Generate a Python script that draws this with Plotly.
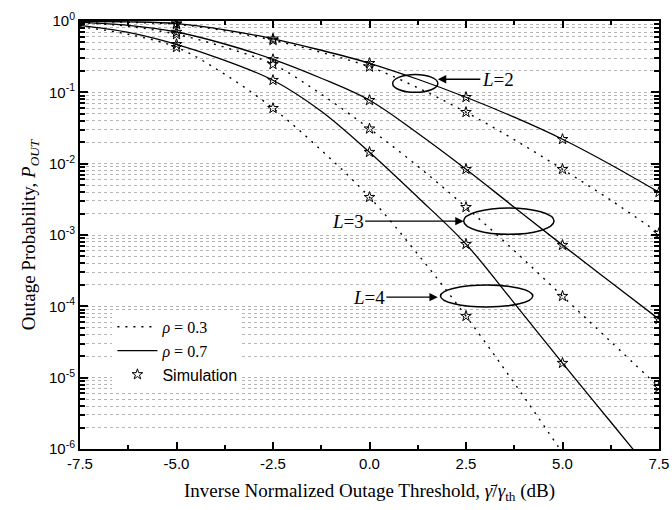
import plotly.graph_objects as go

# ---------------- data ----------------
x_db = [-7.5, -6.25, -5.0, -3.75, -2.5, -1.25, 0.0, 1.25, 2.5, 3.75, 5.0, 6.25, 7.5]

# rho = 0.7 (solid) curves
L2_r07 = [0.990, 0.974, 0.920, 0.753, 0.563, 0.389, 0.2555, 0.1525, 0.0853, 0.0448, 0.0220, 0.00967, 0.00398]
L3_r07 = [0.959, 0.871, 0.701, 0.476, 0.290, 0.1575, 0.0774, 0.0267, 0.00836, 0.00245, 0.000721, 0.000218, 0.0000662]
L4_r07 = [0.871, 0.695, 0.472, 0.281, 0.1476, 0.0543, 0.01447, 0.00339, 0.000744, 0.000111, 0.0000160, 0.00000239, 0.000000356]

# rho = 0.3 (dotted) curves
L2_r03 = [0.984, 0.959, 0.899, 0.729, 0.537, 0.364, 0.228, 0.116, 0.0526, 0.0217, 0.00836, 0.00308, 0.00106]
L3_r03 = [0.950, 0.843, 0.651, 0.428, 0.247, 0.0940, 0.0309, 0.00921, 0.00245, 0.000603, 0.000139, 0.0000320, 0.00000738]
L4_r03 = [0.829, 0.651, 0.428, 0.179, 0.0598, 0.01544, 0.00339, 0.000539, 0.0000729, 0.0000084, 0.00000088, 0.000000086, None]

# simulation points
sim_x = [-5.0, -2.5, 0.0, 2.5, 5.0, 7.5]
sim_L2_r07 = [0.92, 0.563, 0.2555, 0.0853, 0.0220, 0.00398]
sim_L2_r03 = [0.90, 0.537, 0.228, 0.0526, 0.00836, 0.00106]
sim_L3_r07 = [0.70, 0.290, 0.0774, 0.00836, 0.000721, 0.0000662]
sim_L3_r03 = [0.65, 0.247, 0.0309, 0.00245, 0.000139, 0.00000738]
sim_L4_r07 = [0.472, 0.148, 0.0145, 0.000744, 0.0000160, None]
sim_L4_r03 = [0.428, 0.0598, 0.00339, 0.0000729, None, None]

x_ticks = [-7.5, -5.0, -2.5, 0.0, 2.5, 5.0, 7.5]
x_ticklabels = ["-7.5", "-5.0", "-2.5", "0.0", "2.5", "5.0", "7.5"]
y_ticks = [1e-6, 1e-5, 1e-4, 1e-3, 1e-2, 1e-1, 1]
y_ticklabels = ["10<sup>-6</sup>", "10<sup>-5</sup>", "10<sup>-4</sup>", "10<sup>-3</sup>",
                "10<sup>-2</sup>", "10<sup>-1</sup>", "10<sup>0</sup>"]
y_minor = [m * 10.0 ** e for e in range(-6, 0) for m in range(2, 10)]

SERIF = "Liberation Serif"
SANS = "Liberation Sans"

fig = go.Figure()

dot_style = dict(color="black", width=1.4, dash="2px,6px")
solid_style = dict(color="black", width=1.3)

for i, ys in enumerate([L2_r03, L3_r03, L4_r03]):
    fig.add_trace(go.Scatter(x=x_db, y=ys, mode="lines", line=dot_style, line_shape="spline",
                             name="<i>ρ</i> = 0.3", legendgroup="r03", showlegend=(i == 0),
                             connectgaps=False))
for i, ys in enumerate([L2_r07, L3_r07, L4_r07]):
    fig.add_trace(go.Scatter(x=x_db, y=ys, mode="lines", line=solid_style, line_shape="spline",
                             name="<i>ρ</i> = 0.7", legendgroup="r07", showlegend=(i == 0)))
for i, ys in enumerate([sim_L2_r07, sim_L2_r03, sim_L3_r07, sim_L3_r03, sim_L4_r07, sim_L4_r03]):
    fig.add_trace(go.Scatter(x=sim_x, y=ys, mode="markers",
                             marker=dict(symbol="star-open", size=8, color="black",
                                         line=dict(width=1, color="black")),
                             name='<span style="font-family:Liberation Sans">Simulation</span>',
                             legendgroup="sim", showlegend=(i == 0), cliponaxis=True))

# ellipses (y in axis-domain fractions of the 6-decade log axis)
def yfrac(logv):
    return (logv + 6.0) / 6.0

ellipses = [  # (x0, x1, log y0, log y1)
    (0.60, 1.77, -1.00, -0.75),
    (2.44, 4.78, -2.99, -2.62),
    (1.84, 4.23, -4.01, -3.70),
]
for x0, x1, ly0, ly1 in ellipses:
    fig.add_shape(type="circle", xref="x", yref="y domain", x0=x0, x1=x1,
                  y0=yfrac(ly0), y1=yfrac(ly1), line=dict(color="black", width=1.5))

ann_font = dict(family=SERIF, size=19, color="black")
arrows = [  # (text, head x, head log y, ax px, ay px)
    ("<i>L</i>=2", 1.77, -0.817, 60, 0),
    ("<i>L</i>=3", 2.44, -2.806, -116, 0),
    ("<i>L</i>=4", 1.77, -3.871, -69, 0),
]
for t, hx, hy, axp, ayp in arrows:
    fig.add_annotation(x=hx, y=hy, xref="x", yref="y", text=t, showarrow=True,
                       ax=axp, ay=ayp, arrowhead=2, arrowsize=1.2, arrowwidth=1.4,
                       arrowcolor="black", font=ann_font, standoff=0)

fig.update_layout(
    width=672, height=510,
    margin=dict(l=80, r=13, t=21, b=61),
    paper_bgcolor="white", plot_bgcolor="white",
    showlegend=True,
    legend=dict(x=0.056, y=0.325, xanchor="left", yanchor="top",
                bgcolor="white", borderwidth=0,
                font=dict(family=SERIF, size=16, color="black"),
                tracegroupgap=0, itemwidth=40),
)
fig.update_xaxes(
    automargin=False,
    range=[-7.5, 7.5], tickmode="array", tickvals=x_ticks, ticktext=x_ticklabels,
    ticks="inside", ticklen=7, tickwidth=2, tickcolor="black",
    showline=True, linewidth=2, linecolor="black", mirror="allticks",
    showgrid=False, zeroline=False,
    minor=dict(dtick=1.25, tick0=-7.5, ticks="inside", ticklen=4, tickwidth=1.5,
               tickcolor="black", showgrid=False),
    tickfont=dict(family=SANS, size=15, color="black"),
    title=dict(text="Inverse Normalized Outage Threshold, <i>γ̄</i>/<i>γ</i><sub>th</sub> (dB)",
               font=dict(family=SERIF, size=19, color="black"), standoff=13),
)
fig.update_yaxes(
    automargin=False,
    type="log", range=[-6, 0], tickmode="array", tickvals=y_ticks, ticktext=y_ticklabels,
    ticks="inside", ticklen=8, tickwidth=2, tickcolor="black",
    showline=True, linewidth=2, linecolor="black", mirror="allticks",
    showgrid=True, gridcolor="#b5b5b5", gridwidth=1, griddash="dot", zeroline=False,
    minor=dict(tickmode="array", tickvals=y_minor, ticks="inside", ticklen=5, tickwidth=1.5,
               tickcolor="black", showgrid=True, gridcolor="#b5b5b5", gridwidth=1, griddash="dot"),
    tickfont=dict(family=SANS, size=15, color="black"),
    title=dict(text="Outage Probability, <i>P</i><sub><i>OUT</i></sub>",
               font=dict(family=SERIF, size=19, color="black"), standoff=8),
)

fig.write_html("out.html")
